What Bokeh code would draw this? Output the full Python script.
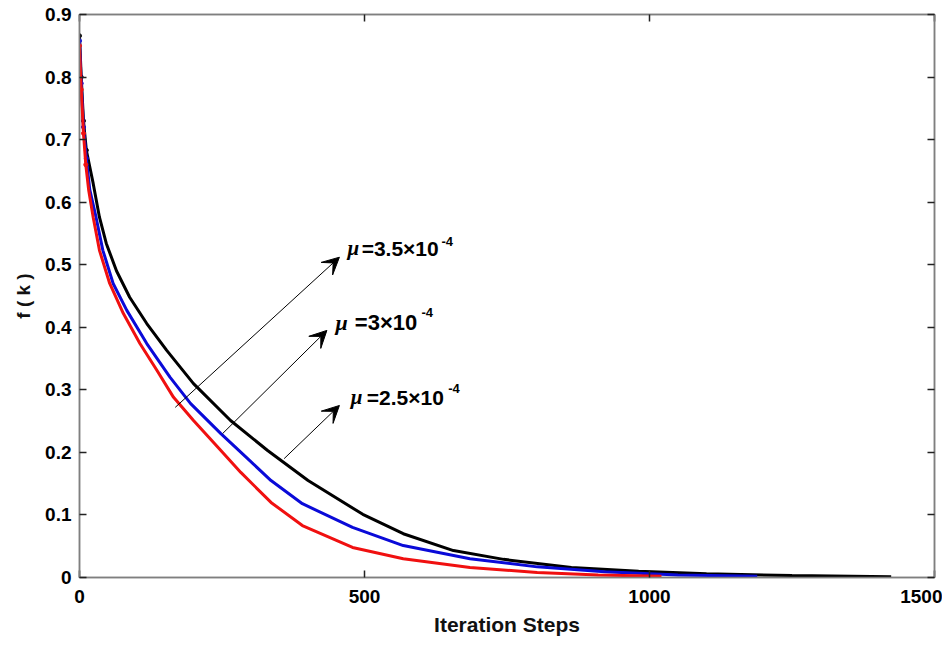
from bokeh.plotting import figure
from bokeh.models import (Range1d, FixedTicker, LinearAxis, Arrow, VeeHead,
                          Label, PrintfTickFormatter, CustomJSTickFormatter)
from bokeh.embed import file_html
from bokeh.resources import INLINE

# ---- data ----
k_black = [0, 3, 7, 12, 24, 35, 47, 65, 88, 118, 153, 200, 265, 330, 401, 497, 568, 656, 744,
           863, 981, 1100, 1250, 1424]
f_black = [0.866, 0.80, 0.73, 0.683, 0.63, 0.576, 0.534, 0.49, 0.448, 0.406, 0.363, 0.31, 0.251,
           0.203, 0.155, 0.101, 0.070, 0.043, 0.029, 0.016, 0.010, 0.006, 0.003, 0.001]

k_blue = [0, 3, 7, 12, 18, 29, 41, 59, 83, 118, 159, 195, 248, 295, 336, 391, 479, 568, 685, 803,
          921, 1050, 1189]
f_blue = [0.858, 0.79, 0.72, 0.67, 0.62, 0.576, 0.523, 0.47, 0.427, 0.374, 0.32, 0.278, 0.230,
          0.190, 0.155, 0.118, 0.080, 0.051, 0.030, 0.017, 0.009, 0.004, 0.002]

k_red = [0, 3, 7, 11, 16, 24, 35, 53, 77, 106, 136, 165, 200, 248, 283, 336, 391, 479, 568, 685,
         803, 910, 1021]
f_red = [0.85, 0.78, 0.71, 0.66, 0.62, 0.576, 0.523, 0.47, 0.422, 0.374, 0.331, 0.288, 0.251,
         0.203, 0.168, 0.120, 0.083, 0.048, 0.030, 0.016, 0.008, 0.004, 0.002]

x_ticks = [0, 500, 1000, 1500]
y_ticks = [0, 0.1, 0.2, 0.3, 0.4, 0.5, 0.6, 0.7, 0.8, 0.9]

mu_labels = ["=3.5\u00d710", "=3\u00d710", "=2.5\u00d710"]
exponent = "-4"

FONT = "Liberation Sans"
GRAY = "#7f7f7f"

p = figure(width=942, height=638, x_range=Range1d(0, 1500), y_range=Range1d(0, 0.9),
           output_backend="svg", toolbar_location=None,
           min_border_left=79, min_border_right=8, min_border_top=14, min_border_bottom=61)
p.xgrid.visible = False
p.ygrid.visible = False
p.outline_line_color = GRAY
p.outline_line_width = 1.5
p.background_fill_color = "white"
p.border_fill_color = "white"

def style_axis(ax):
    ax.axis_line_color = GRAY
    ax.axis_line_width = 1.5
    ax.major_tick_in = 7
    ax.major_tick_out = 0
    ax.major_tick_line_color = "#222222"
    ax.major_tick_line_width = 1.5
    ax.minor_tick_line_color = None
    ax.major_label_text_font = FONT
    ax.major_label_text_font_style = "bold"
    ax.major_label_text_font_size = "19px"
    ax.major_label_text_color = "black"
    ax.axis_label_text_font = FONT
    ax.axis_label_text_font_style = "bold"
    ax.axis_label_text_font_size = "21px"
    ax.axis_label_text_color = "#111111"
    ax.formatter = PrintfTickFormatter(format="%g")

style_axis(p.xaxis[0])
style_axis(p.yaxis[0])
p.xaxis[0].ticker = FixedTicker(ticks=x_ticks)
p.yaxis[0].ticker = FixedTicker(ticks=y_ticks)
p.xaxis[0].axis_label = "Iteration Steps"
p.yaxis[0].axis_label = "f ( k )"
p.yaxis[0].axis_label_text_font_size = "19px"
p.xaxis[0].major_label_standoff = 12
p.xaxis[0].axis_label_standoff = 7
p.yaxis[0].major_label_standoff = 8
p.yaxis[0].axis_label_standoff = 8

# mirrored tick marks on top and right (no labels)
for ticks, side in [(x_ticks, "above"), (y_ticks, "right")]:
    ax = LinearAxis(ticker=FixedTicker(ticks=ticks))
    style_axis(ax)
    ax.formatter = CustomJSTickFormatter(code="return ''")
    ax.major_label_standoff = 0
    ax.axis_label_standoff = 0
    ax.major_label_text_font_size = "1px"
    p.add_layout(ax, side)

# curves (black first, red on top)
for k, f, c in [(k_black, f_black, "black"), (k_blue, f_blue, "#0a0ad8"), (k_red, f_red, "#f01010")]:
    p.line(k, f, line_color=c, line_width=3)
    p.scatter(k[:4], f[:4], size=4, color=c)

# arrows (data coords)
arrows = [((168, 0.272), (456, 0.512)),
          ((251, 0.230), (434, 0.395)),
          ((359, 0.190), (456, 0.275))]
for (xs, ys), (xe, ye) in arrows:
    p.add_layout(Arrow(end=VeeHead(size=17, fill_color="black", line_color="black"),
                       x_start=xs, y_start=ys, x_end=xe, y_end=ye,
                       line_color="black", line_width=1))

# annotation text: mu (italic), main part, superscript
ann = [(470, 0.526, 495, 635, 0.537, mu_labels[0], "21px", "13px"),
       (449, 0.408, 483, 600, 0.424, mu_labels[1], "22px", "13px"),
       (476, 0.288, 504, 647, 0.302, mu_labels[2], "21px", "13px")]
for xm, ym, xt, xs, ys, txt, fs, fss in ann:
    p.add_layout(Label(x=xm, y=ym, text="\u03bc", text_font="Liberation Serif",
                       text_font_style="bold italic", text_font_size=fs,
                       text_baseline="middle", text_align="left", text_color="black"))
    p.add_layout(Label(x=xt, y=ym, text=txt, text_font=FONT, text_font_style="bold",
                       text_font_size=fs, text_baseline="middle", text_align="left",
                       text_color="black"))
    p.add_layout(Label(x=xs, y=ys, text=exponent, text_font=FONT, text_font_style="bold",
                       text_font_size=fss, text_baseline="middle", text_align="left",
                       text_color="black"))

open("out.html", "w").write(file_html(p, INLINE))
